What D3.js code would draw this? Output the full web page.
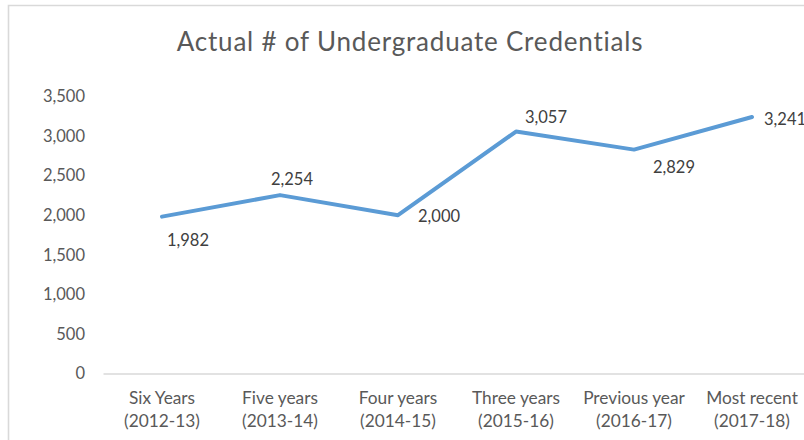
<!DOCTYPE html>
<meta charset="utf-8">
<script src="https://d3js.org/d3.v7.min.js"></script>
<style>
  body { margin: 0; background: #fff; }
  text { font-family: Lato, "Liberation Sans", sans-serif; }
</style>
<div id="chart"></div>
<script>

// data
var categories = ["Six Years", "Five years", "Four years", "Three years", "Previous year", "Most recent"];
var periods = ["(2012-13)", "(2013-14)", "(2014-15)", "(2015-16)", "(2016-17)", "(2017-18)"];
var credentials = [1982, 2254, 2000, 3057, 2829, 3241];
var yTicks = [0, 500, 1000, 1500, 2000, 2500, 3000, 3500];

// where each data label sits relative to its point (Excel auto placement)
var labelDx = [26, 12, 20, 30, 40, 12];
var labelDy = [24, -16, 1, -14, 18, 2];
var labelAnchor = ["middle", "middle", "start", "middle", "middle", "start"];

var width = 804, height = 440;
var plot = {left: 103, top: 96.5, bottom: 373.5, step: 118};

var svg = d3.select("#chart")
  .append("svg")
  .attr("width", width)
  .attr("height", height);

// chart frame (cropped on the right and bottom)
svg.append("path")
  .attr("d", "M8.5," + height + "V5.5H" + width)
  .attr("fill", "none")
  .attr("stroke", "#d9d9d9")
  .attr("stroke-width", 1.6);

svg.append("text")
  .attr("x", 410)
  .attr("y", 51)
  .attr("text-anchor", "middle")
  .style("font-size", "26px")
  .style("letter-spacing", "0.8px")
  .style("fill", "#595959")
  .text("Actual # of Undergraduate Credentials");

var x = d3.scaleBand()
  .domain(categories)
  .range([plot.left, plot.left + plot.step * categories.length])
  .padding(0);

var y = d3.scaleLinear()
  .domain([0, 3500])
  .range([plot.bottom, plot.top]);

var cx = function(c) { return x(c) + x.bandwidth() / 2; };

// y axis labels
var yAxis = svg.append("g")
  .attr("transform", "translate(" + plot.left + ",0)")
  .call(d3.axisLeft(y).tickValues(yTicks).tickSize(0).tickPadding(18).tickFormat(d3.format(",")));
yAxis.select(".domain").remove();
yAxis.selectAll("text")
  .style("font-size", "16.5px")
  .style("fill", "#595959")
  .style("font-family", "Lato, sans-serif");

// x axis
var xAxis = svg.append("g")
  .attr("transform", "translate(0," + plot.bottom + ")")
  .call(d3.axisBottom(x).tickSize(0).tickFormat(""));
xAxis.select(".domain")
  .attr("stroke", "#d9d9d9")
  .attr("stroke-width", 1.5);

xAxis.selectAll(".tick").each(function(d, i) {
  var t = d3.select(this).append("text")
    .attr("text-anchor", "middle")
    .style("font-size", "17.3px")
    .style("fill", "#595959")
    .style("font-family", "Lato, sans-serif");
  t.append("tspan").attr("x", 0).attr("y", 30.5).text(d);
  t.append("tspan").attr("x", 0).attr("y", 53.5).text(periods[i]);
});

// line
var line = d3.line()
  .x(function(d, i) { return cx(categories[i]); })
  .y(function(d) { return y(d); });

svg.append("path")
  .datum(credentials)
  .attr("d", line)
  .attr("fill", "none")
  .attr("stroke", "#5b9bd5")
  .attr("stroke-width", 4)
  .attr("stroke-linejoin", "round")
  .attr("stroke-linecap", "round");

// data labels
svg.selectAll(".val")
  .data(credentials)
  .enter()
  .append("text")
  .attr("class", "val")
  .attr("x", function(d, i) { return cx(categories[i]) + labelDx[i]; })
  .attr("y", function(d, i) { return y(d) + labelDy[i]; })
  .attr("dy", "0.35em")
  .attr("text-anchor", function(d, i) { return labelAnchor[i]; })
  .style("font-size", "16.5px")
  .style("fill", "#404040")
  .text(d3.format(","));

</script>
